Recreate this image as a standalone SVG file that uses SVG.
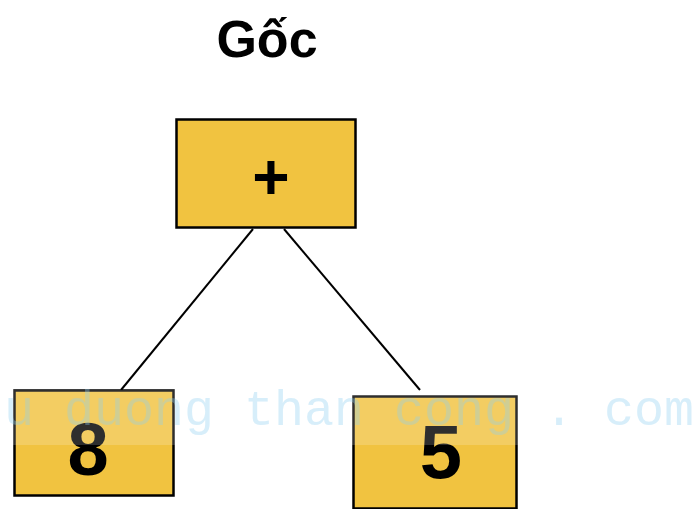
<svg xmlns="http://www.w3.org/2000/svg" width="697" height="509" viewBox="0 0 697 509">
<style>
.box{fill:#f1c340;stroke:#000;stroke-width:2.5}
.lbl{font-family:"Liberation Sans",Arial,sans-serif;font-weight:bold;fill:#000;text-anchor:middle}
.edge{stroke:#000;stroke-width:2;fill:none}
.wm{font-family:"Liberation Mono","DejaVu Sans Mono",monospace;font-size:50px;fill:#8fd0f2;opacity:0.35}
</style>
<rect width="697" height="509" fill="#fff"/>
<text class="lbl" x="267" y="57" font-size="52">Gốc</text>
<g id="connectors">
<line class="edge" x1="253" y1="229" x2="121" y2="390"/>
<line class="edge" x1="284" y1="229" x2="420" y2="390"/>
</g>
<g id="root">
<rect class="box" x="176.5" y="119.5" width="179" height="108"/>
<text class="lbl" x="271" y="199" font-size="64">+</text>
</g>
<g id="left">
<rect class="box" x="14.5" y="390.5" width="159" height="105"/>
<text class="lbl" x="88" y="475" font-size="74">8</text>
</g>
<g id="right">
<rect class="box" x="353.5" y="396.5" width="163" height="112"/>
<text class="lbl" x="441" y="478" font-size="76">5</text>
</g>
<rect x="0" y="390" width="697" height="55" fill="#fff" opacity="0.18"/>
<text class="wm" x="-56" y="425">cuu duong than cong . com</text>
</svg>
